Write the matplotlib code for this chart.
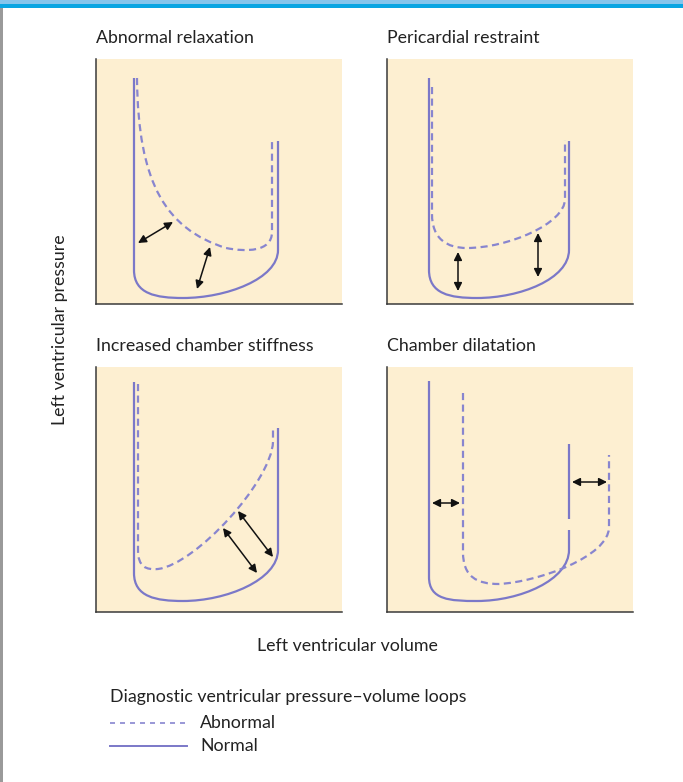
import matplotlib
matplotlib.use('Agg')
import matplotlib.pyplot as plt
from matplotlib.path import Path
from matplotlib.patches import PathPatch, Rectangle
from matplotlib.lines import Line2D

plt.rcParams['font.family'] = ['Lato', 'DejaVu Sans']

# panel titles, in reading order
titles = ['Abnormal relaxation', 'Pericardial restraint',
          'Increased chamber stiffness', 'Chamber dilatation']

# curve points (volume, pressure), bezier control points included
normal_1 = [(38, 226), (38, 34), (38, 10), (60, 6), (87, 6), (130, 6), (182, 25), (182, 54), (182, 163)]
normal_2 = [(42, 226), (42, 34), (42, 10), (63, 6), (90, 6), (133, 6), (182, 25), (182, 54), (182, 163)]
normal_3 = [(38, 230), (38, 39), (38, 15), (60, 11), (87, 11), (130, 11), (182, 32), (182, 62), (182, 184)]
normal_4 = [(42, 231), (42, 35), (42, 12), (63, 11), (90, 11), (133, 11), (182, 32), (182, 62), (182, 82),
            (182, 93), (182, 168)]

abnormal_1 = [(41, 226), (42, 120), (70, 75), (130, 56), (150, 52), (176, 52), (176, 72), (176, 163)]
abnormal_2 = [(45, 217), (45, 90), (45, 65), (60, 56), (80, 56), (120, 56), (178, 80), (178, 105), (178, 164)]
abnormal_3 = [(42, 228), (42, 62), (42, 45), (50, 42), (62, 43), (100, 48), (175, 130), (177, 170), (177, 185)]
abnormal_4 = [(76, 219), (76, 60), (76, 35), (90, 28), (112, 28), (150, 30), (222, 55), (222, 85), (222, 157)]

# double headed arrows (start, end)
arrows_1 = [((42, 61), (77, 82)), ((101, 15), (114, 57))]
arrows_2 = [((71, 52), (71, 13)), ((151, 71), (151, 27))]
arrows_3 = [((127, 84), (161, 39)), ((142, 101), (177, 55))]
arrows_4 = [((45, 109), (73, 109)), ((185, 130), (220, 130))]

M, L, C = Path.MOVETO, Path.LINETO, Path.CURVE4
normal_codes = [M, L, C, C, C, C, C, C, L]
normal_codes_4 = [M, L, C, C, C, C, C, C, L, M, L]
abnormal_codes_1 = [M, C, C, C, C, C, C, L]
abnormal_codes = [M, L, C, C, C, C, C, C, L]

panels = [
    (normal_1, normal_codes, abnormal_1, abnormal_codes_1, arrows_1),
    (normal_2, normal_codes, abnormal_2, abnormal_codes, arrows_2),
    (normal_3, normal_codes, abnormal_3, abnormal_codes, arrows_3),
    (normal_4, normal_codes_4, abnormal_4, abnormal_codes, arrows_4),
]

W, H = 683, 782
line_col = '#7b78c8'
dash_col = '#8885cf'
bg_col = '#fdefd1'
text_col = '#222222'
fs = 12.8

fig = plt.figure(figsize=(W / 100, H / 100), dpi=100)
fig.patch.set_facecolor('white')

# top blue bars and grey left edge
fig.add_artist(Rectangle((0, 1 - 4 / H), 1, 4 / H, transform=fig.transFigure, color='#86c5ec', lw=0))
fig.add_artist(Rectangle((0, 1 - 8 / H), 1, 4 / H, transform=fig.transFigure, color='#0aa5e2', lw=0))
fig.add_artist(Rectangle((0, 0), 3 / W, 1 - 8 / H, transform=fig.transFigure, color='#9a9a9a', lw=0))

lefts = [96, 387, 96, 387]
bottoms = [304, 304, 612, 612]

for i, (norm, ncodes, ab, acodes, arrows) in enumerate(panels):
    ax = fig.add_axes([lefts[i] / W, 1 - bottoms[i] / H, 246 / W, 245 / H])
    ax.set_facecolor(bg_col)
    ax.set_xlim(0, 246)
    ax.set_ylim(0, 245)
    ax.set_xticks([])
    ax.set_yticks([])
    for s in ['top', 'right']:
        ax.spines[s].set_visible(False)
    for s in ['left', 'bottom']:
        ax.spines[s].set_color('#3a3a3a')
        ax.spines[s].set_linewidth(1.1)

    ax.add_patch(PathPatch(Path(norm, ncodes), fill=False, edgecolor=line_col, lw=1.6,
                           capstyle='butt'))
    ax.add_patch(PathPatch(Path(ab, acodes), fill=False, edgecolor=dash_col, lw=1.6,
                           linestyle=(0, (3.2, 2.0))))

    for start, end in arrows:
        ax.annotate('', xy=end, xytext=start,
                    arrowprops=dict(arrowstyle='<|-|>', color='#111111', lw=1.1,
                                    mutation_scale=12, shrinkA=0, shrinkB=0))

    fig.text(lefts[i] / W, 1 - (bottoms[i] - 261) / H, titles[i], fontsize=fs,
             color=text_col, va='baseline', ha='left')

# axis labels shared by all four panels
fig.text(60 / W, 1 - 330 / H, 'Left ventricular pressure', rotation=90,
         fontsize=fs, color=text_col, ha='center', va='center')
fig.text(347 / W, 1 - 646 / H, 'Left ventricular volume',
         fontsize=fs, color=text_col, ha='center', va='center')

# legend
fig.text(110 / W, 1 - 697 / H, 'Diagnostic ventricular pressure\u2013volume loops',
         fontsize=fs, color=text_col, ha='left', va='center')
fig.add_artist(Line2D([110 / W, 189 / W], [1 - 723 / H] * 2, transform=fig.transFigure,
                      color=dash_col, lw=1.2, linestyle=(0, (3, 3))))
fig.text(200 / W, 1 - 723 / H, 'Abnormal', fontsize=fs, color=text_col, ha='left', va='center')
fig.add_artist(Line2D([110 / W, 187 / W], [1 - 746 / H] * 2, transform=fig.transFigure,
                      color=line_col, lw=1.4))
fig.text(200 / W, 1 - 746 / H, 'Normal', fontsize=fs, color=text_col, ha='left', va='center')

fig.savefig('out.png', dpi=100, facecolor='white')
